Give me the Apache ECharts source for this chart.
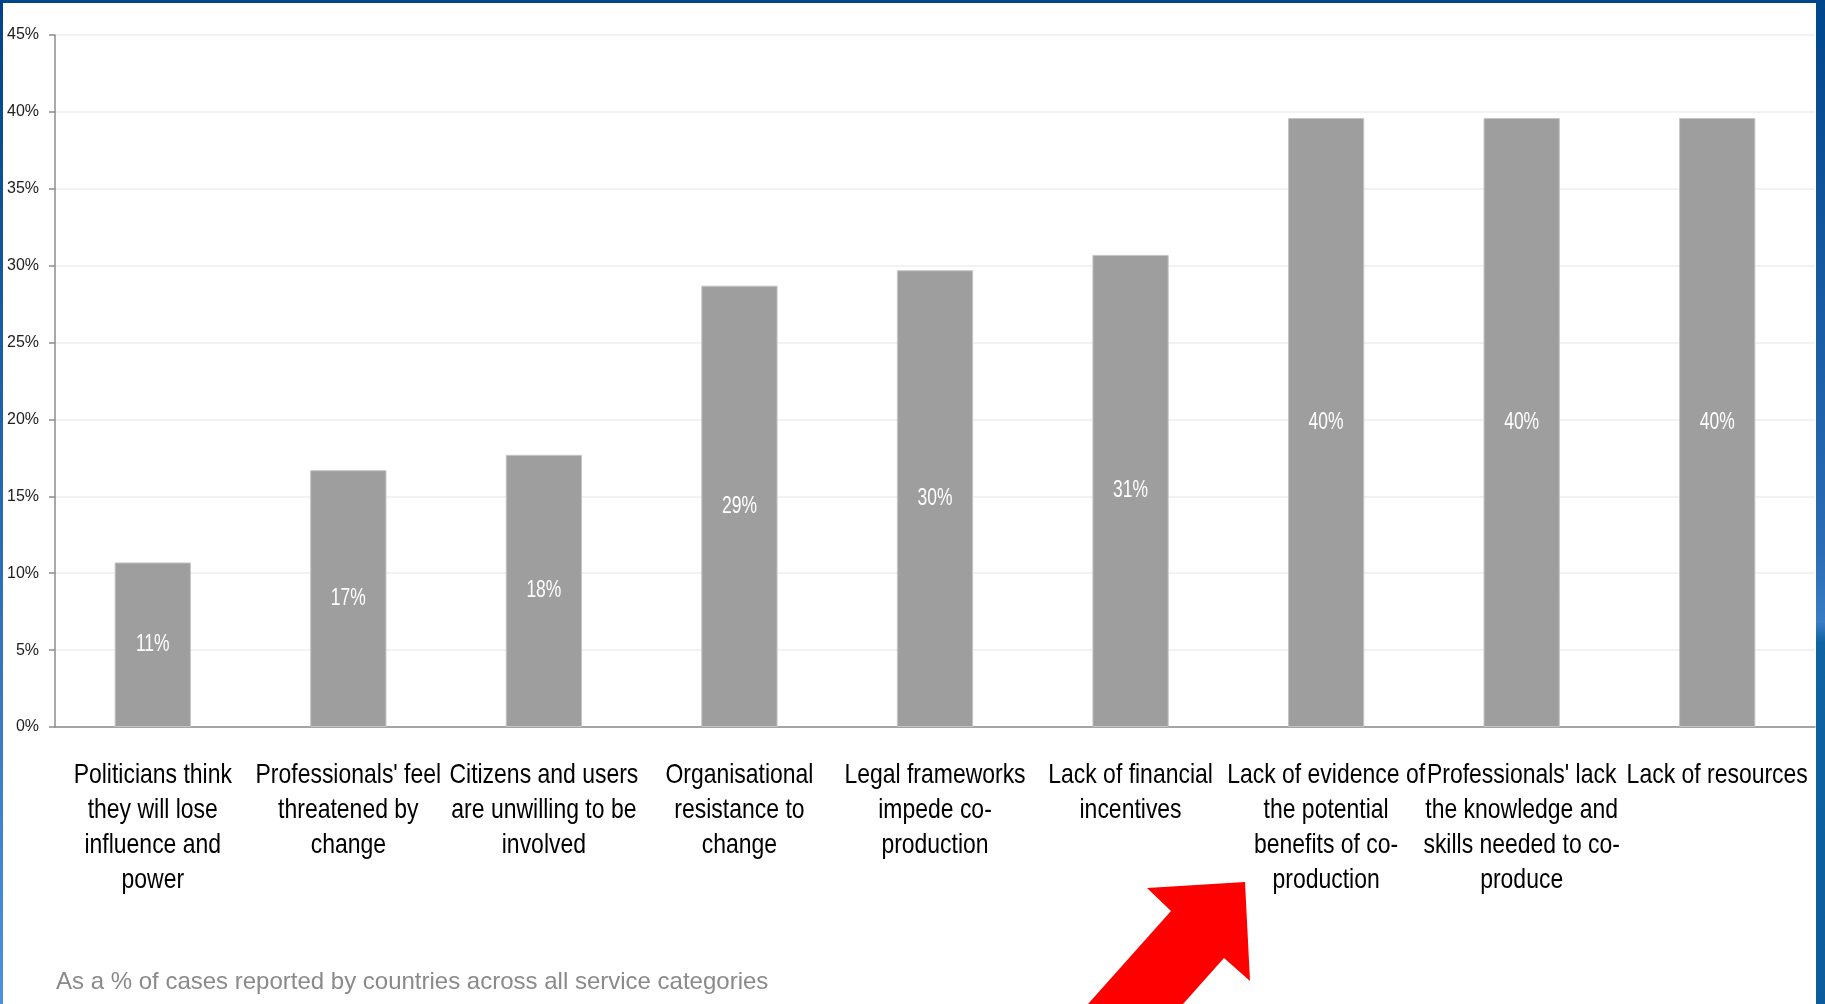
<!DOCTYPE html>
<html>
<head>
<meta charset="utf-8">
<script src="https://cdn.jsdelivr.net/npm/echarts@6/dist/echarts.min.js"></script>
<style>
html,body{margin:0;padding:0;background:#fff;}
#chart{width:1825px;height:1004px;}
</style>
</head>
<body>
<div id="chart"></div>
<script>
var categories = [
	"Politicians think\nthey will lose\ninfluence and\npower",
	"Professionals' feel\nthreatened by\nchange",
	"Citizens and users\nare unwilling to be\ninvolved",
	"Organisational\nresistance to\nchange",
	"Legal frameworks\nimpede co-\nproduction",
	"Lack of financial\nincentives",
	"Lack of evidence of\nthe potential\nbenefits of co-\nproduction",
	"Professionals' lack\nthe knowledge and\nskills needed to co-\nproduce",
	"Lack of resources"
];
var shares = [10.7, 16.7, 17.7, 28.7, 29.7, 30.7, 39.6, 39.6, 39.6];  // % of cases
var footnote = "As a % of cases reported by countries across all service categories";

var sans = "'Liberation Sans', Arial, sans-serif";

var chart = echarts.init(document.getElementById('chart'));
chart.setOption({
	animation: false,
	backgroundColor: '#fff',
	title: {
		text: footnote,
		left: 51,
		top: 965,
		textStyle: {
			fontFamily: sans,
			fontSize: 24,
			fontWeight: 'normal',
			color: '#8a8a8a'
		}
	},
	grid: {
		left: 55,
		right: 10,
		top: 35,
		bottom: 277
	},
	xAxis: [{
		type: 'category',
		data: categories,
		axisLine: {lineStyle: {color: '#8c8c8c', width: 1.5}},
		axisTick: {length: 10, lineStyle: {color: '#8c8c8c', width: 1.5}},
		axisLabel: {show: false}
	}],
	yAxis: [{
		type: 'value',
		min: 0,
		max: 45,
		interval: 5,
		axisLine: {show: true, lineStyle: {color: '#8c8c8c', width: 1.5}},
		axisTick: {show: true, length: 6, lineStyle: {color: '#8c8c8c', width: 1.5}},
		splitLine: {lineStyle: {color: '#eeeeee', width: 1.5}},
		axisLabel: {
			formatter: '{value}%',
			margin: 16,
			fontFamily: sans,
			fontSize: 16,
			color: '#222'
		}
	}],
	series: [{
		type: 'bar',
		data: shares,
		barWidth: '39%',
		itemStyle: {
			color: '#9e9e9e',
			borderColor: '#c4c4c4',
			borderWidth: 1
		}
	}]
});

// frame + arrow
var graphics = [
	{type: 'rect', left: 0, top: 0, shape: {width: 1825, height: 3}, style: {fill: '#00468a'}},
	{type: 'rect', left: 0, top: 0, shape: {width: 3, height: 1004},
		style: {fill: new echarts.graphic.LinearGradient(0, 0, 0, 1, [
			{offset: 0, color: '#00418a'},
			{offset: 1, color: '#4d90e0'}
		])}},
	{type: 'rect', left: 1816, top: 0, shape: {width: 9, height: 1004},
		style: {fill: new echarts.graphic.LinearGradient(0, 0, 0, 1, [
			{offset: 0, color: '#00468a'},
			{offset: 0.55, color: '#2b6cb5'},
			{offset: 0.62, color: '#3a7cc6'},
			{offset: 0.64, color: '#0e63a0'},
			{offset: 1, color: '#0a5d9a'}
		])}},
	{type: 'polygon', shape: {points: [
		[1088, 1004], [1171, 911], [1147, 888], [1245, 882],
		[1250, 981], [1224, 958], [1183, 1004]
	]}, style: {fill: '#ff0000'}}
];

// narrow (Arial Narrow look) labels: Liberation Sans squeezed horizontally,
// placed with the chart's own scales
var axisY = chart.convertToPixel({yAxisIndex: 0}, 0);
categories.forEach(function(name, i){
	var x = chart.convertToPixel({xAxisIndex: 0}, i);
	graphics.push({
		type: 'text', x: x, y: axisY + 31, scaleX: 0.82, z: 100,
		style: {text: name, fontFamily: sans, fontSize: 28, lineHeight: 35,
			fill: '#000', align: 'center', verticalAlign: 'top'}
	});
});
shares.forEach(function(v, i){
	var pt = chart.convertToPixel({seriesIndex: 0}, [i, v / 2]);
	graphics.push({
		type: 'text', x: pt[0], y: pt[1], scaleX: 0.76, z: 100,
		style: {text: Math.round(v) + '%', fontFamily: sans, fontSize: 23,
			fill: '#fff', align: 'center', verticalAlign: 'middle'}
	});
});

chart.setOption({graphic: graphics});
</script>
</body>
</html>
